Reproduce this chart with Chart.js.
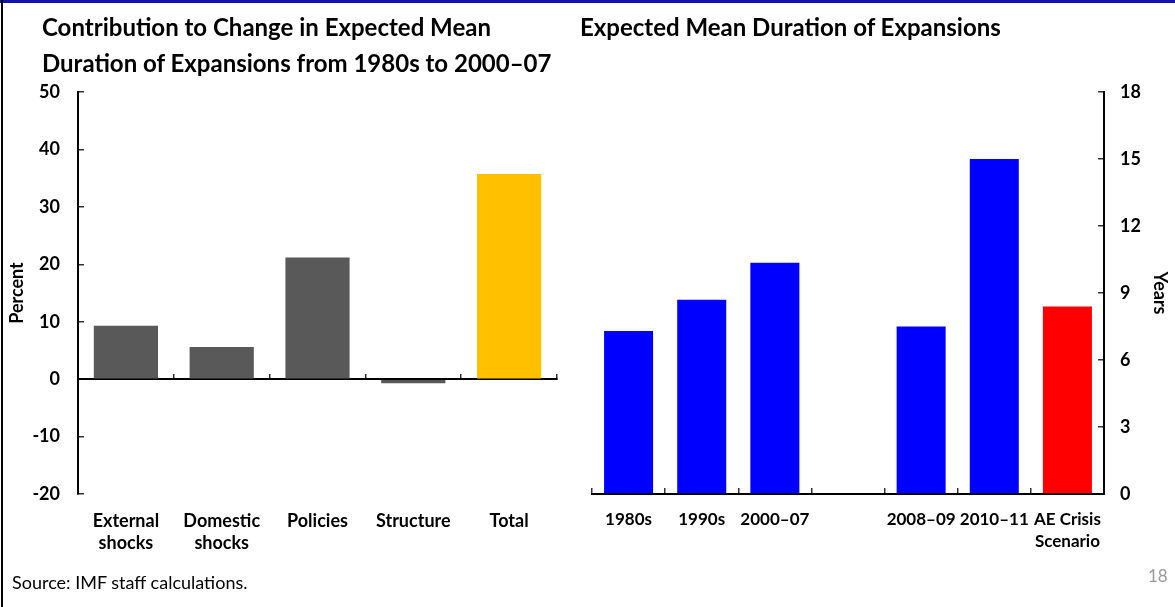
<!DOCTYPE html>
<html>
<head>
<meta charset="utf-8">
<script src="https://cdn.jsdelivr.net/npm/chart.js@4.4.1/dist/chart.umd.min.js"></script>
<style>
  html, body { margin: 0; padding: 0; background: #fff; }
  #page { position: relative; width: 1175px; height: 607px; overflow: hidden; font-family: Lato, "Open Sans", sans-serif; }
  #topbar { position: absolute; left: 0; top: 0; width: 1175px; height: 3px; background: #1414a8; }
  #leftbar { position: absolute; left: 1px; top: 0; width: 2px; height: 607px; background: #000; }
  .title { position: absolute; font-weight: 700; font-size: 24px; line-height: 36px; color: #000; white-space: nowrap; }
  #t1 { left: 42px; top: 9px; }
  #t2 { left: 580px; top: 9px; }
  #src { position: absolute; left: 12px; top: 571px; font-size: 18px; line-height: 22px; color: #000; }
  #pg { position: absolute; left: 1148px; top: 565px; font-size: 17px; line-height: 22px; color: #9a9a9a; }
  .wrap { position: absolute; top: 0; height: 607px; }
  #w1 { left: 0; width: 580px; }
  #w2 { left: 575px; width: 600px; }
</style>
</head>
<body>
<div id="page">
  <div class="wrap" id="w1"><canvas id="contrib" width="580" height="607"></canvas></div>
  <div class="wrap" id="w2"><canvas id="duration" width="600" height="607"></canvas></div>
  <div class="title" id="t1">Contribution to Change in Expected Mean<br>Duration of Expansions from 1980s to 2000–07</div>
  <div class="title" id="t2">Expected Mean Duration of Expansions</div>
  <div id="src">Source: IMF staff calculations.</div>
  <div id="pg">18</div>
  <div id="topbar"></div>
  <div id="leftbar"></div>
</div>
<script>
// Left panel: contributions (percent)
const contribCategories = [['External', 'shocks'], ['Domestic', 'shocks'], 'Policies', 'Structure', 'Total'];
const contribValues = [9.3, 5.6, 21.2, -0.7, 35.7];
const contribColors = ['#595959', '#595959', '#595959', '#595959', '#FFC000'];
const percentTicks = [-20, -10, 0, 10, 20, 30, 40, 50];

// Right panel: expected mean duration (years)
const periodLabels = ['1980s', '1990s', '2000–07', '', '2008–09', '2010–11', ['AE Crisis', 'Scenario']];
const durationYears = [7.3, 8.7, 10.35, null, 7.5, 15.0, 8.4];
const durationColors = ['#0000FF', '#0000FF', '#0000FF', '#0000FF', '#0000FF', '#0000FF', '#FF0000'];
const yearTicks = [0, 3, 6, 9, 12, 15, 18];

const FONT = 'Lato, "Open Sans", sans-serif';
const tickFont = { family: FONT, size: 18, weight: 'bold', lineHeight: '22px' };
const periodFont = { family: FONT, size: 17, weight: 'bold', lineHeight: '22px' };
const titleFont = { family: FONT, size: 18, weight: 'bold' };
const axisColor = '#000';
const tickMarkColor = '#333';

Chart.defaults.font.family = FONT;
Chart.defaults.color = '#000';

const fixedTicks = (values) => (scale) => { scale.ticks = values.map(v => ({ value: v })); };

new Chart(document.getElementById('contrib'), {
  type: 'bar',
  data: {
    labels: contribCategories,
    datasets: [{
      data: contribValues,
      backgroundColor: contribColors,
      borderWidth: 0,
      barPercentage: 0.67,
      categoryPercentage: 1.0
    }]
  },
  options: {
    responsive: false,
    animation: false,
    layout: { padding: { top: 92, right: 23, bottom: 0, left: 0 } },
    plugins: { legend: { display: false }, tooltip: { enabled: false } },
    scales: {
      x: {
        type: 'category',
        position: 'bottom',
        offset: true,
        grid: { display: false },
        border: { display: false },
        ticks: { font: tickFont, padding: 8, maxRotation: 0, autoSkip: false, color: '#000' },
        afterFit: (s) => { s.height = 113; }
      },
      xZero: {
        type: 'category',
        axis: 'x',
        labels: contribCategories,
        position: { y: 0 },
        offset: true,
        grid: { display: true, drawOnChartArea: false, offset: true, tickLength: -6, color: tickMarkColor, lineWidth: 1.5 },
        border: { display: true, color: axisColor, width: 2 },
        ticks: { display: false }
      },
      y: {
        type: 'linear',
        position: 'left',
        min: percentTicks[0],
        max: percentTicks[percentTicks.length - 1],
        afterBuildTicks: fixedTicks(percentTicks),
        grid: { drawOnChartArea: false, tickLength: -6, color: tickMarkColor, lineWidth: 1.5 },
        border: { display: true, color: axisColor, width: 2 },
        ticks: { font: tickFont, padding: 24, color: '#000' },
        title: { display: true, text: 'Percent', font: titleFont, padding: 6, color: '#000' },
        afterFit: (s) => { s.width = 78; }
      }
    }
  }
});

new Chart(document.getElementById('duration'), {
  type: 'bar',
  data: {
    labels: periodLabels,
    datasets: [{
      data: durationYears,
      backgroundColor: durationColors,
      borderWidth: 0,
      barPercentage: 0.67,
      categoryPercentage: 1.0
    }]
  },
  options: {
    responsive: false,
    animation: false,
    layout: { padding: { top: 92, right: 0, bottom: 0, left: 17 } },
    plugins: { legend: { display: false }, tooltip: { enabled: false } },
    scales: {
      x: {
        type: 'category',
        position: 'bottom',
        offset: true,
        grid: { display: true, drawOnChartArea: false, offset: true, tickLength: -6, color: tickMarkColor, lineWidth: 1.5 },
        border: { display: true, color: axisColor, width: 2 },
        ticks: { font: periodFont, padding: 21, maxRotation: 0, autoSkip: false, color: '#000' },
        afterFit: (s) => { s.height = 113; }
      },
      y: {
        type: 'linear',
        position: 'right',
        min: yearTicks[0],
        max: yearTicks[yearTicks.length - 1],
        afterBuildTicks: fixedTicks(yearTicks),
        grid: { drawOnChartArea: false, tickLength: -6, color: tickMarkColor, lineWidth: 1.5 },
        border: { display: true, color: axisColor, width: 2 },
        ticks: { font: tickFont, padding: 22, color: '#000' },
        title: { display: true, text: 'Years', font: titleFont, padding: 4, color: '#000' },
        afterFit: (s) => { s.width = 71; }
      }
    }
  }
});
</script>
</body>
</html>
